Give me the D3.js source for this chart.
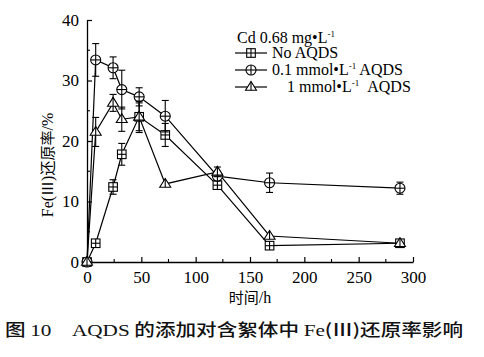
<!DOCTYPE html>
<html><head><meta charset="utf-8">
<script src="https://cdn.jsdelivr.net/npm/d3@7"></script>
<style>body{margin:0;background:#fff;} svg{display:block;} .sf{font-family:"Liberation Serif","DejaVu Serif",Tinos,"Times New Roman",serif;} .cjk{font-family:"Noto Sans CJK SC",sans-serif;}</style>
</head><body>
<svg id="c" width="484" height="357"></svg>
<script>
const times = [0, 8, 24, 32, 48, 72, 120, 168, 288];
const noAQDS = [0, 3.1, 12.4, 17.8, 24.0, 21.0, 12.7, 2.7, 3.1];
const noAQDSErr = [0, 0.3, 1.2, 1.8, 2.3, 1.9, 0.7, 0.5, 0.4];
const aqds01 = [0, 33.4, 32.1, 28.5, 27.3, 24.1, 14.2, 13.1, 12.2];
const aqds01Err = [0, 2.7, 1.8, 3.2, 1.5, 2.6, 0.8, 1.6, 1.0];
const aqds1 = [0, 21.5, 26.3, 23.6, 24.0, 12.9, 14.9, 4.3, 3.1];
const aqds1Err = [0, 2.4, 1.4, 2.0, 2.6, 0.4, 0.8, 0.5, 0.5];
const xTicks = [0, 50, 100, 150, 200, 250, 300];
const yTicks = [0, 10, 20, 30, 40];
const legendLabels = ["No AQDS", "0.1 mmol\u2022L", "1 mmol\u2022L"];

const SERIF = '"Liberation Serif","DejaVu Serif",Tinos,"Times New Roman",serif';
const svg = d3.select("#c");
const x = d3.scaleLinear().domain([0, 300]).range([87, 413]);
const y = d3.scaleLinear().domain([0, 40]).range([262, 20]);

// axes
const xAxis = d3.axisBottom(x).tickValues(xTicks).tickSizeInner(-5).tickSizeOuter(0).tickPadding(9);
const gx = svg.append("g").attr("transform", "translate(0,262)").call(xAxis);
const yAxis = d3.axisLeft(y).tickValues(yTicks).tickSizeInner(-5).tickSizeOuter(0).tickPadding(8);
const gy = svg.append("g").attr("transform", "translate(87,0)").call(yAxis);
[gx, gy].forEach(g => {
  g.attr("font-family", SERIF).attr("font-size", 17);
  g.selectAll("path").attr("stroke", "#000").attr("stroke-width", 1.3);
  g.selectAll("line").attr("stroke", "#000").attr("stroke-width", 1.2);
  g.selectAll("text").style("font-family", SERIF).style("font-size", "17px").attr("fill", "#000");
});
// minor ticks
const xMinor = d3.range(25, 300, 50);
svg.append("g").selectAll("line").data(xMinor).join("line")
  .attr("x1", d => x(d)).attr("x2", d => x(d)).attr("y1", 262).attr("y2", 259)
  .attr("stroke", "#000").attr("stroke-width", 1.1);
const yMinor = d3.range(5, 40, 10);
svg.append("g").selectAll("line").data(yMinor).join("line")
  .attr("x1", 87).attr("x2", 90).attr("y1", d => y(d)).attr("y2", d => y(d))
  .attr("stroke", "#000").attr("stroke-width", 1.1);

// axis titles
svg.append("text").attr("transform", "translate(53,165) rotate(-90)")
  .attr("text-anchor", "middle").attr("class", "cjk").style("font-size", "15px").attr("fill", "#000")
  .html("<tspan class='sf' style='font-size:16px'>Fe(</tspan>Ⅲ<tspan class='sf' style='font-size:16px'>)</tspan>还原率<tspan class='sf' style='font-size:16px'>/%</tspan>");
svg.append("text").attr("x", 250).attr("y", 303)
  .attr("text-anchor", "middle").attr("class", "cjk").style("font-size", "15px").attr("fill", "#000")
  .html("时间<tspan class='sf' style='font-size:16px'>/h</tspan>");

// caption
svg.append("text").attr("x", 5).attr("y", 336).attr("class", "cjk").style("font-size", "16.5px").attr("fill", "#111")
  .attr("font-weight", "500")
  .attr("textLength", 458).attr("lengthAdjust", "spacingAndGlyphs")
  .html("图 <tspan class='sf' font-weight='normal' style='font-size:17px'>10</tspan>　<tspan class='sf' font-weight='normal' style='font-size:17px'>AQDS</tspan> 的添加对含絮体中 <tspan class='sf' font-weight='normal' style='font-size:17px'>Fe</tspan>(Ⅲ)还原率影响");

// markers
function marker(g, type, cx, cy) {
  const s = 4.3;
  const st = {fill: "none", stroke: "#000", "stroke-width": 1.1};
  const ap = (el) => { for (const k in st) el.attr(k, st[k]); return el; };
  if (type === "square") {
    ap(g.append("rect").attr("x", cx - s).attr("y", cy - s).attr("width", 2 * s).attr("height", 2 * s)).attr("fill", "#fff");
    ap(g.append("line").attr("x1", cx - s).attr("x2", cx + s).attr("y1", cy).attr("y2", cy));
    ap(g.append("line").attr("x1", cx).attr("x2", cx).attr("y1", cy - s).attr("y2", cy + s));
  } else if (type === "circle") {
    ap(g.append("circle").attr("cx", cx).attr("cy", cy).attr("r", s + 0.7)).attr("fill", "#fff");
    ap(g.append("line").attr("x1", cx - s - 0.7).attr("x2", cx + s + 0.7).attr("y1", cy).attr("y2", cy));
    ap(g.append("line").attr("x1", cx).attr("x2", cx).attr("y1", cy - s - 0.7).attr("y2", cy + s + 0.7));
  } else {
    const h = 5.5;
    ap(g.append("path").attr("d", `M${cx},${cy - h}L${cx + h},${cy + h * 0.6}L${cx - h},${cy + h * 0.6}Z`)).attr("fill", "#fff");
    ap(g.append("line").attr("x1", cx).attr("x2", cx).attr("y1", cy - h).attr("y2", cy + h * 0.6));
  }
}

const series = [
  {vals: noAQDS, err: noAQDSErr, type: "square"},
  {vals: aqds01, err: aqds01Err, type: "circle"},
  {vals: aqds1, err: aqds1Err, type: "triangle"}
];
const line = d3.line().x(d => x(d[0])).y(d => y(d[1]));
series.forEach(s => {
  const pts = times.map((t, i) => [t, s.vals[i], s.err[i]]);
  svg.append("path").attr("d", line(pts)).attr("fill", "none").attr("stroke", "#000").attr("stroke-width", 1.2);
});
series.forEach(s => {
  const pts = times.map((t, i) => [t, s.vals[i], s.err[i]]);
  const g = svg.append("g");
  pts.forEach(p => {
    if (p[2] > 0.6) {
      const cx = x(p[0]);
      g.append("line").attr("x1", cx).attr("x2", cx).attr("y1", y(p[1] + p[2])).attr("y2", y(p[1] - p[2])).attr("stroke", "#000").attr("stroke-width", 1.1);
      [p[1] + p[2], p[1] - p[2]].forEach(v => g.append("line").attr("x1", cx - 3.5).attr("x2", cx + 3.5).attr("y1", y(v)).attr("y2", y(v)).attr("stroke", "#000").attr("stroke-width", 1.1));
    }
  });
  pts.forEach(p => marker(g, s.type, x(p[0]), y(p[1])));
});

// legend
const lg = svg.append("g");
lg.append("text").attr("x", 237).attr("y", 43).attr("class", "sf").style("font-size", "16px").attr("fill", "#000")
  .html("Cd 0.68 mg\u2022L<tspan dy='-6' style='font-size:9px'>-1</tspan>");
const rows = [53, 70, 87];
const textX = [272, 272, 287];
series.forEach((s, i) => {
  lg.append("line").attr("x1", 235).attr("x2", 267).attr("y1", rows[i]).attr("y2", rows[i]).attr("stroke", "#000").attr("stroke-width", 1.2);
  marker(lg, s.type, 251, rows[i]);
  const t = lg.append("text").attr("x", textX[i]).attr("y", rows[i] + 5).attr("class", "sf").style("font-size", "16px").attr("fill", "#000");
  if (i === 0) t.text(legendLabels[0]);
  else t.html(legendLabels[i] + "<tspan dy='-6' style='font-size:9px'>-1</tspan><tspan dy='6'>" + (i === 1 ? " AQDS" : "\u00a0\u00a0AQDS") + "</tspan>");
});
</script>
</body></html>
